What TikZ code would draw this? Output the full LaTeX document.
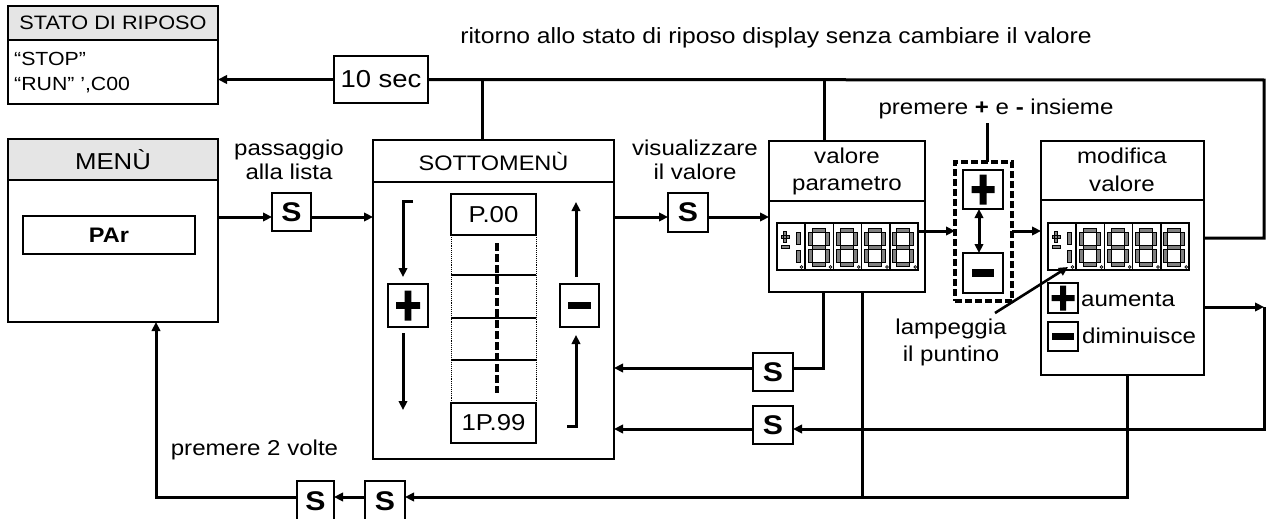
\documentclass[tikz,border=0pt]{standalone}
\usepackage{fontspec}
\setmainfont{Liberation Sans}[FakeStretch=1.12]
\usetikzlibrary{arrows.meta}
\newcommand\fz[1]{\fontsize{#1}{#1}\selectfont}
\newcommand\bx[7][]{\node[box,#1,minimum width={(#5)-(#3)},minimum height={(#6)-(#4)}] (#2) at ({((#3)+(#5))/2},{((#4)+(#6))/2}) {#7};}
\newcommand\plusmark[4]{\fill[shift={(#1.center)}] (-#2,-#4) rectangle (#2,#4) (-#4,-#3) rectangle (#4,#3);}
\newcommand\minusmark[3]{\fill[shift={(#1.center)}] (-#2,-#3) rectangle (#2,#3);}
\newcommand\digcell[2]{%
  \begin{scope}[shift={(#1,#2)}]
    \path[seg] (7,5) rectangle (20,9) (7,22) rectangle (20,26) (7,39) rectangle (20,43)
      (3,9) rectangle (7,22) (20,9) rectangle (24,22) (3,26) rectangle (7,39) (20,26) rectangle (24,39);
    \draw[line width=0.8pt] (25.5,44) circle (1.4);
  \end{scope}}
\newcommand\segdisp[3]{%
  \node[draw, line width=1.9pt, inner sep=0pt, outer sep=0pt, minimum width=141, minimum height=47] (#1) at ({#2+70.5},{#3+23.5}) {};
  \foreach \k in {28,56.25,84.5,112.75} {\draw[line width=1.5pt] ({#2+\k},#3) -- ({#2+\k},{#3+47});}
  \begin{scope}[shift={(#2,#3)}]
    \path[seg] (6.5,8) rectangle (9.5,19) (4,12) rectangle (12,15) (4,22) rectangle (12,25)
      (19,9) rectangle (23,21) (19,27) rectangle (23,39);
    \draw[line width=0.8pt] (24.5,44) circle (1.4);
  \end{scope}
  \digcell{#2+28}{#3}\digcell{#2+56.25}{#3}\digcell{#2+84.5}{#3}\digcell{#2+112.75}{#3}}
\tikzset{
  box/.style={draw, line width=2.3pt, inner sep=0pt, outer sep=0pt},
  hdr/.style={box, fill=black!10},
  conn/.style={line width=3pt},
  tipA/.tip={Triangle[length=9pt,width=8.5pt]},
  arr/.style={conn, -tipA},
  sbox/.style={box, font=\fz{27}\bfseries},
  lbl/.style={inner sep=0pt, font=\fz{21.5}},
  seg/.style={draw, line width=1pt, fill=black!50},
}
\begin{document}
\begin{tikzpicture}[x=1pt,y=-1pt]
\useasboundingbox (0,0) rectangle (1266,519);
\fill[white] (0,0) rectangle (1266,519);

% ---- stato di riposo
\bx[hdr, font=\fz{19.4}]{statoH}{8}{6}{218}{40}{STATO DI RIPOSO}
\bx{statoB}{8}{40}{218}{104}{}
\node[lbl, font=\fz{19}, anchor=base west] (stop) at (14,66) {“STOP”};
\node[lbl, font=\fz{19}, anchor=base west] (run) at (14,90) {“RUN” ',C00};
\bx[font=\fz{24.5}]{tensec}{334}{56}{428}{103}{10 sec}
\node[lbl, font=\fz{22}] (toptxt) at (776,38) {ritorno allo stato di riposo display senza cambiare il valore};

% ---- menu
\bx[hdr, font=\fz{23}]{menuH}{8}{139}{218}{180}{MENÙ}
\bx{menuB}{8}{180}{218}{322}{}
\bx[font=\fz{21}\bfseries]{par}{23}{216}{195}{254}{PAr}
\node[lbl, anchor=base] (pass1) at (289,155) {passaggio};
\node[lbl, anchor=base] (pass2) at (289,179) {alla lista};
\bx[sbox]{s1}{272}{193}{311}{231}{S}

% ---- sottomenu
\bx[font=\fz{21}]{sotH}{373}{140}{614}{182}{SOTTOMENÙ}
\bx{sotB}{373}{182}{614}{459}{}
\bx[font=\fz{23}]{p00}{451}{194}{536}{235}{P.00}
\bx[font=\fz{23}]{p99}{451}{403}{536}{443}{1P.99}
\draw[line width=0.9pt, densely dotted] (p00.south west) -- (p99.north west) (p00.south east) -- (p99.north east);
\foreach \yy in {275,318,360} {\draw[line width=2.3pt] (451,\yy) -- (536,\yy);}
\draw[line width=3.3pt, dash pattern=on 8pt off 3pt] (497,243) -- (497,393);
\bx{plusL}{388}{284}{428}{327}{}
\plusmark{plusL}{12}{15}{3.3}
\bx{minusR}{560}{284}{599}{327}{}
\minusmark{minusR}{11.5}{3.8}
\draw[arr] (413,201) -- (403,201) -- (403,277);
\draw[arr] (403,333) -- (403,410);
\draw[arr] (576,277) -- (576,202);
\draw[arr] (567,426) -- (576,426) -- (576,335);

% ---- valore parametro
\node[lbl, anchor=base] (vis1) at (695,155) {visualizzare};
\node[lbl, anchor=base] (vis2) at (695,179) {il valore};
\bx[sbox]{s2}{668}{193}{708}{232}{S}
\bx{valH}{769}{141}{925}{201}{}
\bx{valB}{769}{201}{925}{292}{}
\node[lbl, anchor=base] (val1) at (847,163) {valore};
\node[lbl, anchor=base] (val2) at (847,190) {parametro};
\segdisp{disp1}{777}{223}

% ---- plus/minus together
\node[lbl, anchor=base] (prem) at (996,114) {premere \textbf{+} e \textbf{-} insieme};
\node[draw, line width=3.2pt, dash pattern=on 7pt off 3pt, inner sep=0pt, outer sep=0pt, minimum width=57, minimum height=139] (dbox) at (983.5,231.5) {};
\bx{plusD}{963}{170}{1003}{209}{}
\plusmark{plusD}{11.5}{15}{3.5}
\bx{minusD}{963}{253}{1003}{293}{}
\minusmark{minusD}{11}{4}
\coordinate (colpm) at (979,0);
\draw[conn, tipA-tipA] (plusD.south -| colpm) -- (minusD.north -| colpm);
\coordinate (tick) at (987,123);
\draw[conn] (tick) -- (tick |- dbox.north);

% ---- modifica valore
\bx{modH}{1041}{141}{1204}{200}{}
\bx{modB}{1041}{200}{1204}{375}{}
\node[lbl, anchor=base] (mod1) at (1122,163) {modifica};
\node[lbl, anchor=base] (mod2) at (1122,191) {valore};
\segdisp{disp2}{1048}{223}
\bx{plusS}{1048}{283}{1078}{313}{}
\plusmark{plusS}{11.5}{12.5}{3}
\bx{minusS}{1048}{322}{1078}{351}{}
\minusmark{minusS}{11}{3.5}
\node[lbl, anchor=base west] (aum) at (1081,306) {aumenta};
\node[lbl, anchor=base west] (dim) at (1082,343) {diminuisce};
\node[lbl, anchor=base] (lamp1) at (951,334) {lampeggia};
\node[lbl, anchor=base] (lamp2) at (951,361) {il puntino};
\coordinate (lampA) at (995,313);
\coordinate (dot2) at (1068,267);
\draw[arr, line width=2.6pt] (lampA) -- (dot2);

% ---- S boxes
\bx[sbox]{s3}{753}{353}{793}{391}{S}
\bx[sbox]{s4}{753}{406}{793}{444}{S}
\bx[sbox]{sA}{297}{481}{334}{521}{S}
\bx[sbox]{sB}{365}{481}{405}{521}{S}
\node[lbl, anchor=base] (p2v) at (254.5,455) {premere 2 volte};

% ---- connectors
\coordinate (row1) at (0,217);
\coordinate (row2) at (0,231);
\coordinate (rtop) at (1264,80);
\coordinate (rmid) at (1264,238);
\coordinate (rlow) at (1264,307);
\coordinate (rbot) at (1264,429);
\coordinate (d1) at (482,80);
\coordinate (d2) at (824,80);
\coordinate (c823) at (823,368);
\coordinate (b862) at (862,497);
\coordinate (b1127) at (1127,497);
\coordinate (b156) at (156,497);

\draw[conn] (modB.east |- rmid) -- (rmid) -- (rtop) -- (tensec.east);
\draw[arr] (tensec.west) -- (tensec.west -| statoB.east);
\draw[conn] (d1) -- (d1 |- sotH.north);
\draw[conn] (d2) -- (d2 |- valH.north);
\draw[arr] (menuB.east |- row1) -- (s1.west |- row1);
\draw[arr] (s1.east |- row1) -- (sotB.west |- row1);
\draw[arr] (sotB.east |- row1) -- (s2.west |- row1);
\draw[arr] (s2.east |- row1) -- (valB.west |- row1);
\draw[arr] (disp1.east |- row2) -- (dbox.west |- row2);
\draw[arr] (dbox.east |- row2) -- (modB.west |- row2);
\draw[conn] (valB.south -| c823) -- (c823) -- (s3.east |- c823);
\draw[arr] (s3.west |- c823) -- (sotB.east |- c823);
\draw[arr] (modB.east |- rlow) -- (rlow);
\draw[arr] (rlow) -- (rbot) -- (s4.east |- rbot);
\draw[arr] (s4.west |- rbot) -- (sotB.east |- rbot);
\draw[conn] (valB.south -| b862) -- (b862);
\draw[arr] (modB.south -| b1127) -- (b1127) -- (sB.east |- b1127);
\draw[arr] (sB.west |- b1127) -- (sA.east |- b1127);
\draw[arr] (sA.west |- b156) -- (b156) -- (b156 |- menuB.south);
\end{tikzpicture}
\end{document}
